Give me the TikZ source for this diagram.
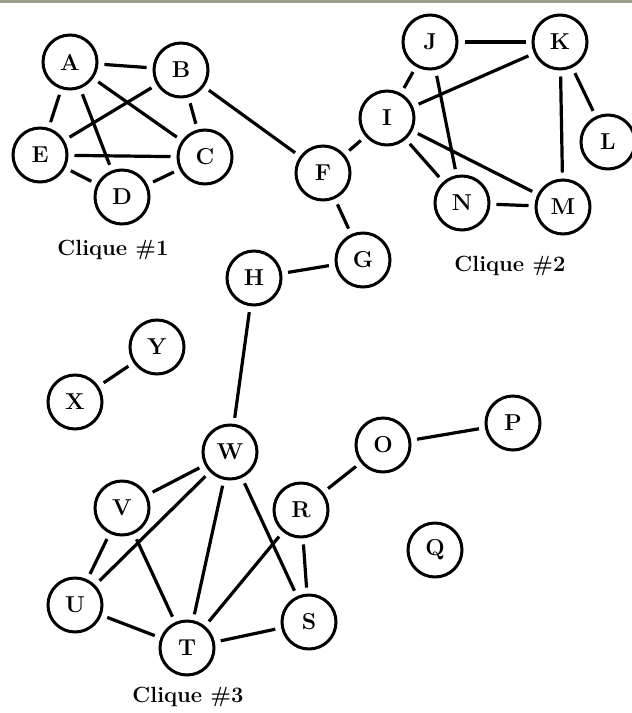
\documentclass[tikz,border=0pt]{standalone}
\begin{document}
\begin{tikzpicture}[x=1pt,y=-1pt,
  vtx/.style={circle,draw,line width=3pt,minimum size=54pt,inner sep=0pt,
    font=\fontsize{23}{26}\selectfont\bfseries},
  lbl/.style={font=\fontsize{22}{25}\selectfont\bfseries},
  edge/.style={line width=3.2pt,shorten >=6pt,shorten <=6pt}]
\definecolor{topbar}{rgb}{0.62,0.62,0.55}
\useasboundingbox (0,0) rectangle (632,713);
\fill[white] (0,0) rectangle (632,713);
\fill[topbar] (0,0) rectangle (632,3);
% clique 1
\node[vtx] (A) at (70,62) {A};
\node[vtx] (B) at (181,70) {B};
\node[vtx] (E) at (40,155) {E};
\node[vtx] (C) at (205,157) {C};
\node[vtx] (D) at (122,197) {D};
\node[lbl] (c1) at (113,250) {Clique \#1};
% middle
\node[vtx] (F) at (323,173) {F};
\node[vtx] (G) at (363,260) {G};
\node[vtx] (H) at (254,278) {H};
% clique 2
\node[vtx] (J) at (430,42) {J};
\node[vtx] (K) at (560,42) {K};
\node[vtx] (I) at (387,118) {I};
\node[vtx] (L) at (608,142) {L};
\node[vtx] (N) at (462,203) {N};
\node[vtx] (M) at (563,207) {M};
\node[lbl] (c2) at (510,266) {Clique \#2};
% others
\node[vtx] (Y) at (157,347) {Y};
\node[vtx] (X) at (75,402) {X};
\node[vtx] (O) at (383,445) {O};
\node[vtx] (P) at (513,423) {P};
\node[vtx] (Q) at (435,550) {Q};
% clique 3
\node[vtx] (W) at (230,452) {W};
\node[vtx] (V) at (122,508) {V};
\node[vtx] (R) at (301,510) {R};
\node[vtx] (U) at (75,605) {U};
\node[vtx] (T) at (187,648) {T};
\node[vtx] (S) at (309,622) {S};
\node[lbl] (c3) at (188,697) {Clique \#3};
% edges
\foreach \a/\b in {A/B,A/E,A/D,A/C,B/E,B/C,E/C,E/D,D/C,B/F,F/I,F/G,G/H,
  I/J,I/K,J/K,J/N,I/N,I/M,K/L,K/M,N/M,Y/X,O/P,O/R,H/W,
  W/V,W/U,W/T,W/S,V/U,V/T,U/T,T/S,T/R,R/S}
  \draw[edge] (\a) -- (\b);
\end{tikzpicture}
\end{document}
